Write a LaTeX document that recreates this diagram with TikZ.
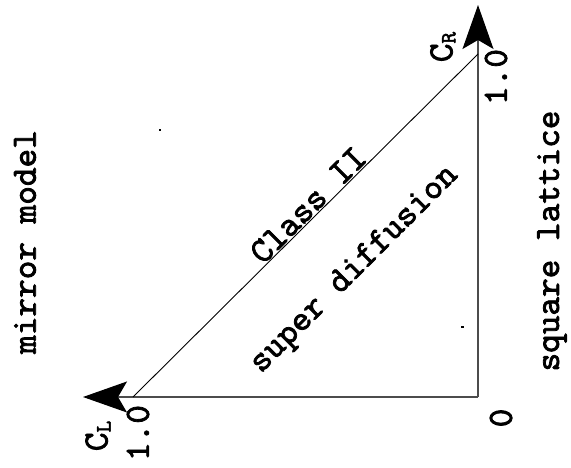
\documentclass[tikz,border=0pt]{standalone}
\usepackage{fontspec}
\newfontfamily\lbf[FakeBold=2.2]{lmmono10-regular.otf}
\usetikzlibrary{arrows.meta}
\begin{document}
\begin{tikzpicture}[x=1pt,y=-1pt,
  lbl/.style={font=\lbf\fontsize{35.5}{38}\selectfont, inner sep=0pt, rotate=90},
  axis/.style={draw=black!70, line width=1.1pt, -{Stealth[length=44pt,width=31pt,inset=9pt,color=black]}},
  diag/.style={draw=black, line width=0.9pt}]
\useasboundingbox (0,0) rectangle (571,468);
\coordinate (O) at (478,397);
\coordinate (L) at (83,397);
\coordinate (R) at (478,5);
\coordinate (A) at (133,397);
\coordinate (B) at (478,54);
\draw[axis] (O) -- (L);
\draw[axis] (O) -- (R);
\draw[diag] (A) -- (B);
\node[lbl] (cr) at (443,47) {C\raisebox{-0.2ex}{\fontsize{22}{24}\selectfont R}};
\node[lbl] (r1) at (496,77) {1.0};
\node[lbl] (cl) at (98,436) {C\raisebox{-0.2ex}{\fontsize{22}{24}\selectfont L}};
\node[lbl] (l1) at (138,433) {1.0};
\node[lbl] (z) at (501,418) {0};
\node[lbl, rotate=-45] (cls) at (308,205) {Class II};
\node[lbl, rotate=-45] (sd) at (355,270) {super diffusion};
\node[lbl] (mm) at (25,242) {mirror model};
\node[lbl] (sq) at (552,241) {square lattice};
\fill (159,129) rectangle (161,131);
\fill (461,326) rectangle (464,328);
\end{tikzpicture}
\end{document}
